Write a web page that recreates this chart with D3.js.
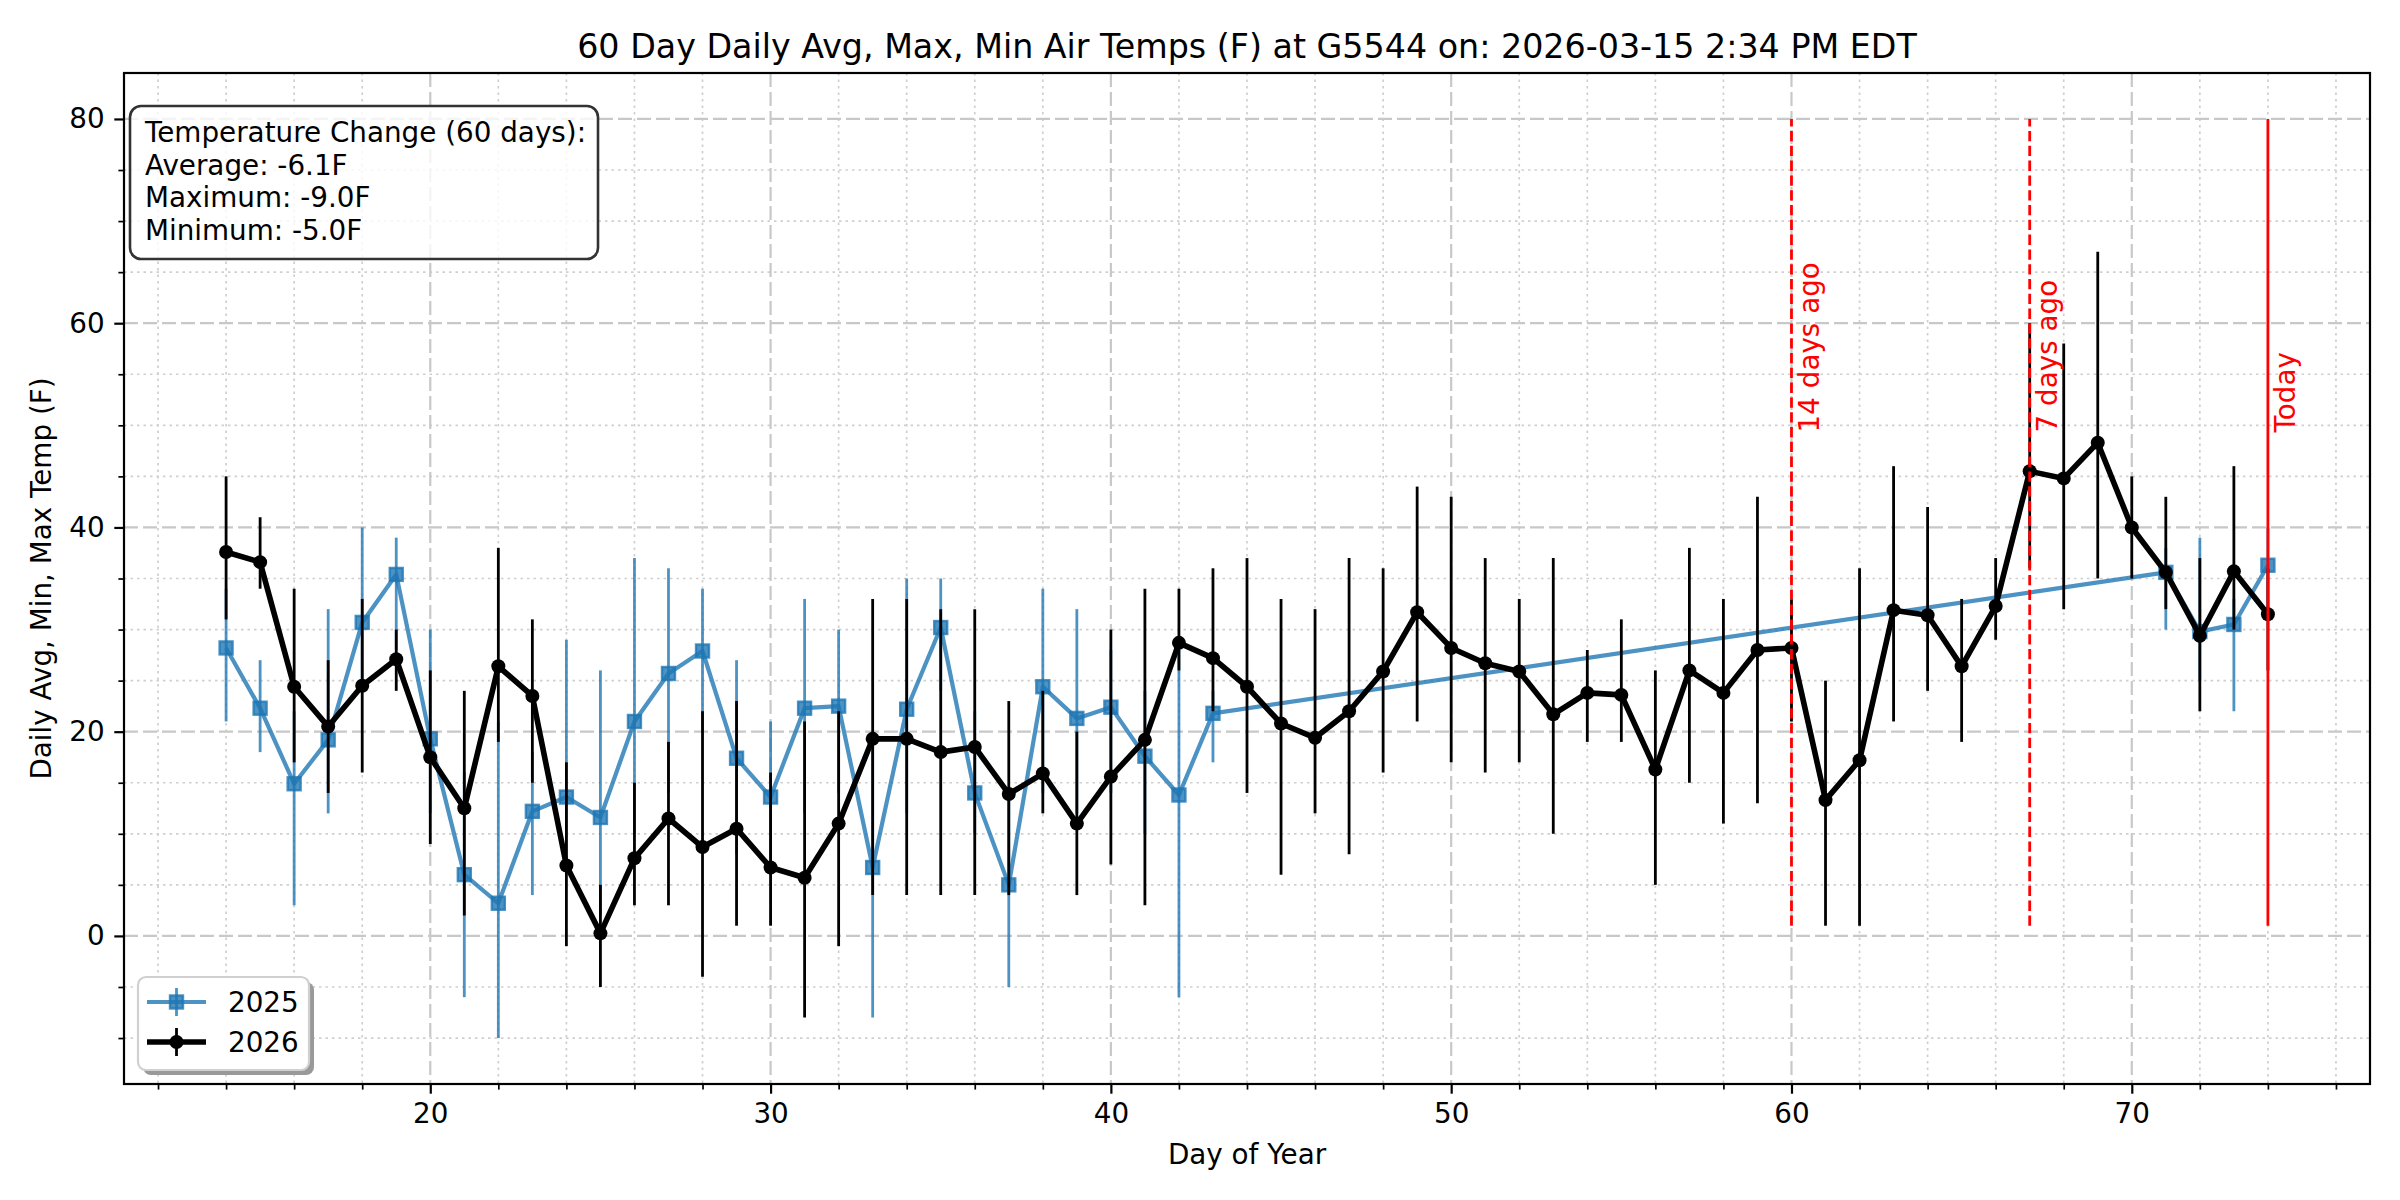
<!DOCTYPE html>
<html>
  <head>
    <meta charset="utf-8">
    <title>60 Day Daily Avg, Max, Min Air Temps</title>
    <script src="https://d3js.org/d3.v7.min.js"></script>
    <style>
      body { margin: 0; background: #fff; }
      text { font-family: "DejaVu Sans", sans-serif; }
    </style>
  </head>
  <body>
    <script>
      var width = 2400;
      var height = 1200;
      var margin = {left: 124, right: 30, top: 73, bottom: 116};
      var plotW = width - margin.left - margin.right;
      var plotH = height - margin.top - margin.bottom;

      // 2025 (only part of the window has data)
      var days2025 = [14, 15, 16, 17, 18, 19, 20, 21, 22, 23, 24, 25, 26, 27, 28, 29, 30,
                      31, 32, 33, 34, 35, 36, 37, 38, 39, 40, 41, 42, 43, 71, 72, 73, 74];
      var avg2025 = [28.2, 22.3, 14.9, 19.2, 30.7, 35.4, 19.3, 6.0, 3.2, 12.2, 13.6, 11.6, 21.0, 25.7, 27.9, 17.4, 13.6,
                     22.3, 22.5, 6.7, 22.2, 30.2, 14.0, 5.0, 24.4, 21.3, 22.4, 17.6, 13.8, 21.8, 35.6, 29.8, 30.5, 36.3];
      var max2025 = [34, 27, 22, 32, 40, 39, 30, 16, 21, 18, 29, 26, 37, 36, 34, 27, 21,
                     33, 30, 20, 35, 35, 22, 14, 34, 32, 28, 24, 28, 24, 38, 39, 33, 40];
      var min2025 = [21, 18, 3, 12, 24, 28, 12, -6, -10, 4, 7, 2, 10, 14, 20, 8, 6,
                     12, 14, -8, 12, 24, 10, -5, 14, 12, 14, 10, -6, 17, 30, 25, 22, 32];

      // 2026
      var days2026 = [14, 15, 16, 17, 18, 19, 20, 21, 22, 23, 24, 25, 26, 27, 28, 29, 30, 31, 32, 33, 34,
                      35, 36, 37, 38, 39, 40, 41, 42, 43, 44, 45, 46, 47, 48, 49, 50, 51, 52, 53, 54,
                      55, 56, 57, 58, 59, 60, 61, 62, 63, 64, 65, 66, 67, 68, 69, 70, 71, 72, 73, 74];
      var avg2026 = [37.6, 36.6, 24.4, 20.5, 24.5, 27.1, 17.5, 12.5, 26.4, 23.5, 6.9, 0.25, 7.6, 11.5, 8.7, 10.5, 6.7, 5.7, 11.0, 19.3, 19.3,
                     18.0, 18.5, 13.9, 15.9, 11.0, 15.6, 19.2, 28.7, 27.2, 24.4, 20.8, 19.4, 22.0, 25.9, 31.7, 28.2, 26.7, 25.9, 21.7, 23.8,
                     23.6, 16.3, 26.0, 23.8, 28.0, 28.2, 13.3, 17.2, 31.9, 31.4, 26.4, 32.3, 45.5, 44.8, 48.3, 40.0, 35.6, 29.4, 35.7, 31.5];
      var max2026 = [45, 41, 34, 27, 33, 30, 26, 24, 38, 31, 17, 5, 15, 19, 22, 23, 16, 21, 22, 33, 33,
                     32, 32, 23, 24, 20, 30, 34, 34, 36, 37, 33, 32, 37, 36, 44, 43, 37, 33, 37, 28,
                     31, 26, 38, 33, 43, 33, 25, 36, 46, 42, 33, 37, 60, 58, 67, 45, 43, 37, 46, 36];
      var min2026 = [31, 34, 17, 14, 16, 24, 9, 2, 19, 15, -1, -5, 3, 3, -4, 1, 1, -8, -1, 4, 4,
                     4, 4, 4, 12, 4, 7, 3, 26, 22, 14, 6, 12, 8, 16, 21, 17, 16, 17, 10, 19,
                     19, 5, 15, 11, 13, 21, 1, 1, 21, 24, 19, 29, 36, 32, 35, 35, 32, 22, 30, 26];

      var markerDays = [60, 67, 74];
      var markerLabels = ["14 days ago", "7 days ago", "Today"];
      var markerDash = ["10.3,4.5", "10.3,4.5", null];

      var xMajorTicks = [20, 30, 40, 50, 60, 70];
      var xMinorTicks = [12, 14, 16, 18, 22, 24, 26, 28, 32, 34, 36, 38, 42, 44, 46, 48,
                         52, 54, 56, 58, 62, 64, 66, 68, 72, 74, 76];
      var yMajorTicks = [0, 20, 40, 60, 80];
      var yMinorTicks = [-10, -5, 5, 10, 15, 25, 30, 35, 45, 50, 55, 65, 70, 75];

      var changeLines = ["Temperature Change (60 days):", "Average: -6.1F", "Maximum: -9.0F", "Minimum: -5.0F"];

      var blue = "rgba(31,119,180,0.8)";
      var fontSize = 27.8;

      function zip(days, avg, lo, hi) {
        return days.map(function(d, i) { return {day: d, avg: avg[i], lo: lo[i], hi: hi[i]}; });
      }
      var s2025 = zip(days2025, avg2025, min2025, max2025);
      var s2026 = zip(days2026, avg2026, min2026, max2026);

      var x = d3.scaleLinear().domain([11, 77]).range([0, plotW]);
      var y = d3.scaleLinear().domain([-14.5, 84.5]).range([plotH, 0]);

      var svg = d3.select("body").append("svg")
          .attr("width", width)
          .attr("height", height);

      svg.append("rect").attr("width", width).attr("height", height).attr("fill", "#fff");

      var g = svg.append("g")
          .attr("transform", "translate(" + margin.left + "," + margin.top + ")");

      // grid
      var grid = g.append("g").attr("class", "grid");
      grid.selectAll("line.vminor").data(xMinorTicks).enter().append("line")
          .attr("x1", x).attr("x2", x).attr("y1", 0).attr("y2", plotH)
          .attr("stroke", "#cfcfcf").attr("stroke-width", 1.7).attr("stroke-dasharray", "2.5,4");
      grid.selectAll("line.hminor").data(yMinorTicks).enter().append("line")
          .attr("y1", y).attr("y2", y).attr("x1", 0).attr("x2", plotW)
          .attr("stroke", "#cfcfcf").attr("stroke-width", 1.7).attr("stroke-dasharray", "2.5,4");
      grid.selectAll("line.vmajor").data(xMajorTicks).enter().append("line")
          .attr("x1", x).attr("x2", x).attr("y1", 0).attr("y2", plotH)
          .attr("stroke", "#c8c8c8").attr("stroke-width", 2.2).attr("stroke-dasharray", "14,5");
      grid.selectAll("line.hmajor").data(yMajorTicks).enter().append("line")
          .attr("y1", y).attr("y2", y).attr("x1", 0).attr("x2", plotW)
          .attr("stroke", "#c8c8c8").attr("stroke-width", 2.2).attr("stroke-dasharray", "14,5");

      function drawSeries(data, opts) {
        var sg = g.append("g");
        sg.selectAll("line.err").data(data).enter().append("line")
            .attr("x1", function(d) { return x(d.day); })
            .attr("x2", function(d) { return x(d.day); })
            .attr("y1", function(d) { return y(d.lo); })
            .attr("y2", function(d) { return y(d.hi); })
            .attr("stroke", opts.color).attr("stroke-width", 2.8);
        var line = d3.line().x(function(d) { return x(d.day); }).y(function(d) { return y(d.avg); });
        sg.append("path").datum(data)
            .attr("d", line)
            .attr("fill", "none")
            .attr("stroke", opts.color)
            .attr("stroke-width", opts.lw)
            .attr("stroke-linejoin", "round");
        if (opts.square) {
          sg.selectAll("rect.mk").data(data).enter().append("rect")
              .attr("x", function(d) { return x(d.day) - 6.5; })
              .attr("y", function(d) { return y(d.avg) - 6.5; })
              .attr("width", 13).attr("height", 13)
              .attr("fill", opts.color).attr("stroke", opts.color).attr("stroke-width", 2.4);
        } else {
          sg.selectAll("circle.mk").data(data).enter().append("circle")
              .attr("cx", function(d) { return x(d.day); })
              .attr("cy", function(d) { return y(d.avg); })
              .attr("r", 7)
              .attr("fill", opts.color);
        }
      }

      drawSeries(s2025, {color: blue, lw: 4.2, square: true});
      drawSeries(s2026, {color: "#000", lw: 5.6, square: false});

      // reference lines
      markerDays.forEach(function(d, i) {
        var ln = g.append("line")
            .attr("x1", x(d)).attr("x2", x(d))
            .attr("y1", y(1)).attr("y2", y(80))
            .attr("stroke", "red").attr("stroke-width", 2.8);
        if (markerDash[i]) ln.attr("stroke-dasharray", markerDash[i]);
        g.append("text")
            .attr("transform", "translate(" + (x(d) + 27.5) + "," + y(49.3) + ") rotate(-90)")
            .attr("fill", "red")
            .attr("font-size", fontSize)
            .text(markerLabels[i]);
      });

      // axes
      function styleAxis(sel, w) {
        sel.select(".domain").remove();
        sel.selectAll(".tick line").attr("stroke", "#000").attr("stroke-width", w);
        sel.selectAll(".tick text").attr("fill", "#000");
        sel.attr("font-size", fontSize).attr("font-family", "DejaVu Sans, sans-serif");
      }
      g.append("g").attr("transform", "translate(0," + plotH + ")")
          .call(d3.axisBottom(x).tickValues(xMinorTicks).tickSize(5.6).tickFormat(""))
          .call(styleAxis, 1.7);
      g.append("g").attr("transform", "translate(0," + plotH + ")")
          .call(d3.axisBottom(x).tickValues(xMajorTicks).tickSize(9.7).tickPadding(9.7).tickFormat(d3.format("d")))
          .call(styleAxis, 2.2);
      g.append("g")
          .call(d3.axisLeft(y).tickValues(yMinorTicks).tickSize(5.6).tickFormat(""))
          .call(styleAxis, 1.7);
      g.append("g")
          .call(d3.axisLeft(y).tickValues(yMajorTicks).tickSize(9.7).tickPadding(9.7).tickFormat(d3.format("d")))
          .call(styleAxis, 2.2);

      g.append("rect")
          .attr("width", plotW).attr("height", plotH)
          .attr("fill", "none").attr("stroke", "#000").attr("stroke-width", 2.2);

      // text box
      var box = svg.append("g");
      box.append("rect")
          .attr("x", 130).attr("y", 106).attr("width", 468).attr("height", 153)
          .attr("rx", 11).attr("fill", "#fff").attr("fill-opacity", 0.8)
          .attr("stroke", "#333").attr("stroke-width", 2.6);
      box.append("text")
          .attr("font-size", fontSize)
          .selectAll("tspan").data(changeLines).enter().append("tspan")
          .attr("x", 145)
          .attr("y", function(d, i) { return 142 + i * 32.5; })
          .text(function(d) { return d; });

      // titles
      svg.append("text")
          .attr("x", margin.left + plotW / 2).attr("y", 58)
          .attr("text-anchor", "middle").attr("font-size", 33.3)
          .text("60 Day Daily Avg, Max, Min Air Temps (F) at G5544 on: 2026-03-15 2:34 PM EDT");
      svg.append("text")
          .attr("x", margin.left + plotW / 2).attr("y", 1164)
          .attr("text-anchor", "middle").attr("font-size", fontSize)
          .text("Day of Year");
      svg.append("text")
          .attr("transform", "translate(51," + (margin.top + plotH / 2) + ") rotate(-90)")
          .attr("text-anchor", "middle").attr("font-size", fontSize)
          .text("Daily Avg, Min, Max Temp (F)");

      // legend
      var leg = svg.append("g");
      leg.append("rect")
          .attr("x", 143).attr("y", 982).attr("width", 171).attr("height", 93).attr("rx", 8)
          .attr("fill", "#999");
      leg.append("rect")
          .attr("x", 138).attr("y", 977).attr("width", 171).attr("height", 93).attr("rx", 8)
          .attr("fill", "#fff").attr("stroke", "#d0d0d0").attr("stroke-width", 2.2);
      var legItems = [
        {label: "2025", color: blue, lw: 4.2, square: true, cy: 1002},
        {label: "2026", color: "#000", lw: 5.6, square: false, cy: 1042}
      ];
      legItems.forEach(function(it) {
        leg.append("line").attr("x1", 147).attr("x2", 206).attr("y1", it.cy).attr("y2", it.cy)
            .attr("stroke", it.color).attr("stroke-width", it.lw);
        leg.append("line").attr("x1", 176.5).attr("x2", 176.5).attr("y1", it.cy - 14).attr("y2", it.cy + 14)
            .attr("stroke", it.color).attr("stroke-width", 2.8);
        if (it.square) {
          leg.append("rect").attr("x", 170).attr("y", it.cy - 6.5).attr("width", 13).attr("height", 13)
              .attr("fill", it.color).attr("stroke", it.color).attr("stroke-width", 2.4);
        } else {
          leg.append("circle").attr("cx", 176.5).attr("cy", it.cy).attr("r", 7).attr("fill", it.color);
        }
        leg.append("text").attr("x", 228).attr("y", it.cy + 10).attr("font-size", fontSize).text(it.label);
      });
    </script>
  </body>
</html>
